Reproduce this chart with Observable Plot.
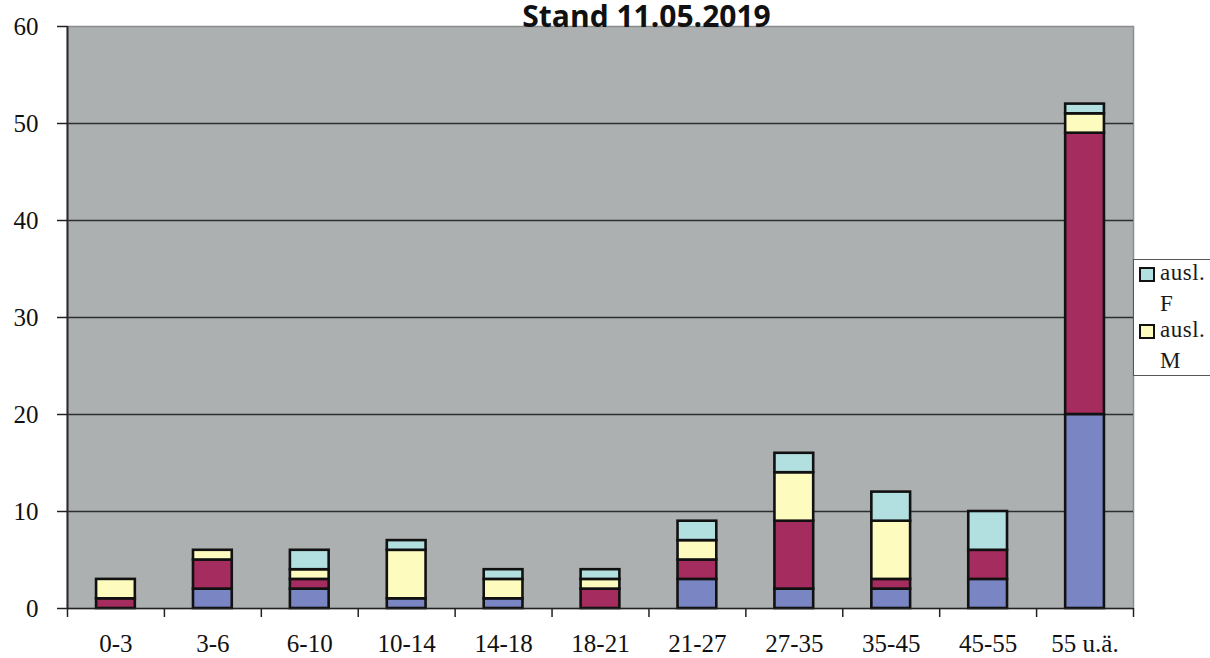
<!DOCTYPE html>
<html>
<head>
<meta charset="utf-8">
<script src="https://cdn.jsdelivr.net/npm/d3@7"></script>
<script src="https://cdn.jsdelivr.net/npm/@observablehq/plot@0.6"></script>
<style>
  html, body { margin: 0; padding: 0; background: #fff; }
  #wrap { position: relative; width: 1210px; height: 658px; overflow: hidden; }
  #legend {
    position: absolute; left: 1133px; top: 259px; width: 100px; height: 117px;
    border: 1px solid #555; background: #fff; box-sizing: border-box;
    font-family: "Liberation Serif", "DejaVu Serif", serif; font-size: 23px; color: #1a1a1a;
    padding: 0 0 0 5px;
  }
  .item { display: flex; align-items: flex-start; line-height: 31px; }
  .item:first-child { margin-top: -3px; }
  .item + .item { margin-top: -5px; }
  .sw { width: 12px; height: 11px; border: 2px solid #111; margin-top: 10px; margin-right: 5px; flex: none; }
  .lab { width: 52px; letter-spacing: 0.5px; }
</style>
</head>
<body>
<div id="wrap"></div>
<script>
const categories = ["0-3","3-6","6-10","10-14","14-18","18-21","21-27","27-35","35-45","45-55","55 u.ä."];
const seriesNames = ["dt. M","dt. F","ausl. M","ausl. F"];
const seriesColors = ["#7a86c3","#a52c5e","#fefbbe","#b2dfe0"];
const dtM   = [0, 2, 2, 1, 1, 0, 3, 2, 2, 3, 20];
const dtF   = [1, 3, 1, 0, 0, 2, 2, 7, 1, 3, 29];
const auslM = [2, 1, 1, 5, 2, 1, 2, 5, 6, 0, 2];
const auslF = [0, 0, 2, 1, 1, 1, 2, 2, 3, 4, 1];
const yTicks = [0, 10, 20, 30, 40, 50, 60];
const gridValues = [10, 20, 30, 40, 50];
const title = "Stand 11.05.2019";
const legendItems = ["ausl. F", "ausl. M"];

const seriesValues = [dtM, dtF, auslM, auslF];
const rows = [];
seriesNames.forEach((s, si) => categories.forEach((c, ci) => rows.push({cat: c, series: s, value: seriesValues[si][ci]})));

const W = 1210, H = 658, ML = 67, MR = 77, MT = 26, MB = 50;
const step = (W - ML - MR) / categories.length;

const chart = Plot.plot({
  width: W, height: H,
  marginLeft: ML, marginRight: MR, marginTop: MT, marginBottom: MB,
  style: {background: "transparent", overflow: "visible"},
  x: {domain: categories, paddingInner: 0.6, paddingOuter: 0.3, align: 0.5, round: false},
  y: {domain: [0, 60]},
  color: {domain: seriesNames, range: seriesColors},
  marks: [
    Plot.frame({fill: "#adb0b1", stroke: "#8a8c8d", strokeWidth: 1.5}),
    Plot.ruleY(gridValues, {stroke: "#2e2e2e", strokeWidth: 1.3}),
    Plot.barY(rows, Plot.stackY({x: "cat", y: "value", fill: "series", stroke: "#111", strokeWidth: 2.6, order: seriesNames, filter: d => d.value > 0})),
    Plot.ruleY([0], {stroke: "#222", strokeWidth: 1.5}),
    Plot.ruleX(categories, {x: d => d, y1: 0, y2: 0, insetBottom: -9, dx: -step / 2, stroke: "#222", strokeWidth: 1.5}),
    Plot.ruleX(categories.slice(-1), {x: d => d, y1: 0, y2: 0, insetBottom: -9, dx: step / 2, stroke: "#222", strokeWidth: 1.5}),
    Plot.ruleX(categories.slice(0, 1), {x: d => d, y1: 0, y2: 60, dx: -step / 2, stroke: "#2a2a2a", strokeWidth: 2}),
    Plot.axisY({ticks: yTicks, tickSize: 10, tickPadding: 19, label: null, fontSize: 25, fontFamily: "Liberation Serif", stroke: "#222", fill: "#111", strokeWidth: 1.5}),
    Plot.axisX({tickSize: 0, tickPadding: 26, label: null, fontSize: 25, fontFamily: "Liberation Serif", fill: "#111", style: {letterSpacing: "1.8px"}}),
    Plot.text([title], {frameAnchor: "top", dx: 46, dy: 0, lineAnchor: "bottom", fontSize: 30, fontWeight: "bold", fontFamily: "Open Sans", fill: "#111", style: {letterSpacing: "0.3px"}})
  ]
});
document.getElementById("wrap").appendChild(chart);

const legend = document.createElement("div");
legend.id = "legend";
legendItems.forEach(name => {
  const it = document.createElement("div");
  it.className = "item";
  const sw = document.createElement("span");
  sw.className = "sw";
  sw.style.background = seriesColors[seriesNames.indexOf(name)];
  const lab = document.createElement("span");
  lab.className = "lab";
  lab.textContent = name;
  it.appendChild(sw); it.appendChild(lab);
  legend.appendChild(it);
});
document.getElementById("wrap").appendChild(legend);
</script>
</body>
</html>
